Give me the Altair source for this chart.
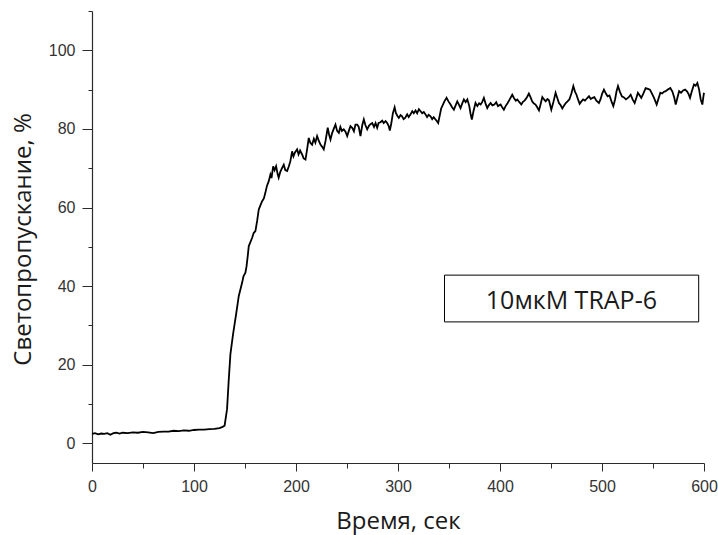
import altair as alt
import pandas as pd

# --- data ---
time_s = [0, 3, 6, 9, 12, 15, 18, 21, 24, 27, 30, 35, 40, 45, 50, 55, 60, 65, 70, 75,
          80, 85, 90, 95, 100, 105, 110, 115, 120, 125, 128, 130,
          132.4, 134, 135.7, 138.3, 141.3, 143.9, 147.2, 148.5, 150.4, 151.5, 152.7, 153.7,
          155, 157, 158.5, 160.2, 161.9, 163.5, 165, 166.8, 168.5, 170, 171.5, 173.3, 174.9,
          176, 177.6, 179, 180.5, 182, 183, 184.5, 186.4, 188, 189.5, 191.3, 193, 194.5,
          196.2, 197.5, 199, 201.1, 202.5, 204, 206, 207.5, 209.3, 211, 212.5, 214, 215.8,
          217.5, 219, 220.7, 222.3, 224, 225.5, 227.2, 229, 231.1, 232.5, 233.8, 235.5, 237,
          238.7, 240.3, 242, 243.5, 245, 246.8, 248.5, 250.2, 251.8, 253.4, 255.1, 256.8,
          258.3, 260, 261.5, 263.2, 265, 266.5, 268, 269.8, 271.5, 273, 274.7, 276.5, 278,
          279.6, 281, 282.8, 284.5, 286, 287.8, 289.4, 290.8, 292, 293.5, 295, 296.7, 298,
          299.5, 300.8, 302.5, 304, 305.5, 307, 309, 310.5, 312.3, 314, 315.5, 317.2, 318.8,
          320.5, 322.1, 323.7, 325.3, 327, 328.5, 330, 331.9, 333.5, 335, 336.8, 338, 339.4,
          341, 342.3, 343.4, 345.5, 347.6, 349.5, 351.5, 353, 354.8, 356.5, 358.1, 359.7,
          361.3, 363, 364.6, 366.3, 368, 369.9, 371, 372.4, 374, 376, 377.8, 379.5, 381,
          382.5, 384.2, 385.8, 387.5, 389, 390.8, 392.5, 394.5, 396.3, 398, 400.6, 402,
          403.8, 405.5, 407.5, 409.5, 412, 413.8, 415.5, 417, 419, 420.9, 422.5, 424, 425,
          426.7, 428.3, 430, 431.5, 433, 434.8, 436.5, 438.2, 439.8, 441.5, 443.2, 444.8,
          446.5, 448, 450.3, 452.5, 454.5, 456, 457.8, 459.5, 461.1, 463, 464.5, 466.2, 468,
          470, 471.9, 473.5, 475, 476.5, 478.1, 479.8, 481.5, 483.3, 485.3, 487.2, 489,
          490.8, 492.5, 494.5, 497, 498.5, 500.2, 501.9, 503.8, 505.5, 507.3, 509.3, 511.1,
          512.8, 514.2, 515.7, 517.5, 519.5, 521.5, 523.5, 526, 528.1, 530, 532, 533.8,
          535.2, 537, 538.5, 540.5, 542.8, 545, 547, 549, 551, 553.6, 555.5, 557.2, 559,
          560.5, 562.4, 564.5, 567, 569, 570.8, 572.3, 574, 575.6, 577.5, 579.5, 581.5,
          583.5, 585, 586.3, 588, 590.2, 591.8, 593.5, 595.2, 596.8, 598.4, 599.3, 600]

transmission = [2.4, 2.6, 2.3, 2.5, 2.4, 2.6, 2.2, 2.6, 2.7, 2.5, 2.7, 2.6, 2.8, 2.7, 2.9, 2.8, 2.6, 2.9, 3.0, 3.0,
                3.2, 3.1, 3.3, 3.2, 3.4, 3.5, 3.5, 3.6, 3.7, 3.9, 4.2, 4.5,
                8.7, 15.9, 22.7, 27.8, 32.9, 37.5, 40.9, 42.5, 43.4, 45, 47.7, 50.2,
                51, 52.3, 53.5, 54, 56.6, 59.5, 60.5, 61.6, 62.3, 63.8, 65.5, 66.7, 68.4,
                67.5, 70.5, 69.5, 70.5, 68.5, 67.6, 69, 70.1, 70.9, 69.5, 69.3, 70.5, 71.8,
                74.3, 73, 74, 74.8, 73.5, 74.5, 73.5, 72.5, 72.2, 75, 77.7, 76.5, 76,
                77.5, 76.5, 78.2, 77, 76.0, 75.5, 74.8, 77, 80.3, 78.5, 77.3, 79, 80,
                81.1, 79.5, 79, 80.5, 79.5, 79.9, 79.3, 78.2, 79.5, 80.7, 80.3, 79.4,
                81.1, 81.1, 80.5, 78.2, 81, 82.4, 81, 79.9, 80.8, 81.2, 81.5, 80.5, 81.5,
                80.3, 81.5, 81.7, 82.1, 81.5, 82, 81.5, 80.8, 79.6, 81.5, 84, 85.5, 84,
                83.3, 82.8, 83.5, 83.2, 82.5, 82.8, 83.7, 83, 83.7, 84.5, 84, 84.7, 84,
                85, 84.5, 84, 84.3, 83.7, 83, 83.6, 83.2, 82.5, 83, 82.4, 82, 81.5,
                83.5, 85.2, 85.8, 87, 87.9, 87, 86.2, 85.5, 84.9, 86, 87.0, 86.2,
                85.3, 86.5, 87.5, 86.8, 87.5, 85.8, 84, 82.4, 84.5, 86.6, 85.8, 86.5, 86.2,
                86.8, 87.9, 86.5, 85.3, 86, 86.6, 86, 86.2, 86.8, 85.8, 86.2, 85.6,
                84.9, 85.8, 86.6, 87.5, 88.7, 87.8, 87.2, 87.5, 86.8, 86.2, 86.9, 87.2, 87.5,
                88.2, 89.0, 88, 87.0, 86.5, 86.2, 85.5, 84.7, 86.3, 88.1, 87.5, 87.0,
                87.6, 87.3, 84.9, 87, 89.2, 88, 86.6, 86, 85.2, 86, 86.6, 87, 87.5,
                89, 90.9, 89.5, 88.7, 87.5, 86.4, 87, 87.5, 87.2, 87.8, 88.3, 87.6,
                87.9, 88.1, 87.2, 86.6, 87.5, 89, 90.0, 89, 88.3, 88.5, 87, 85.8,
                87.5, 89.5, 90.9, 89.5, 88.3, 88, 87.5, 88, 88.7, 87.5, 86.6, 88,
                89.2, 88.5, 87.9, 89, 90.4, 90.2, 90.0, 89, 87.9, 86.2, 87.8, 89.2, 89,
                89.4, 89.6, 90, 90.4, 89.5, 88, 86.2, 88, 89.6, 89.2, 89.8, 90.0,
                89.5, 88.8, 87.9, 89.5, 91.3, 91, 91.7, 90, 87.5, 86.2, 88, 89.2]

x_all_ticks = [0, 50, 100, 150, 200, 250, 300, 350, 400, 450, 500, 550, 600]
y_all_ticks = [0, 10, 20, 30, 40, 50, 60, 70, 80, 90, 100, 110]

label_text = ["10мкМ TRAP-6"]
# annotation box placement in data units (time, %)
box_t1, box_t2 = [345.6], [594.8]
box_v1, box_v2 = [42.8], [30.9]
label_t, label_v = [470.0], [34.1]

df = pd.DataFrame({"t": time_s, "v": transmission})
box_df = pd.DataFrame({"t1": box_t1, "t2": box_t2, "v1": box_v1, "v2": box_v2})
lab_df = pd.DataFrame({"t": label_t, "v": label_v, "txt": label_text})

AX = "#2b2b2b"

x_scale = alt.Scale(domain=[0, 600], nice=False, zero=False)
y_scale = alt.Scale(domain=[-5, 110], nice=False, zero=False)

x_axis = alt.Axis(
    values=x_all_ticks,
    title="Время, сек",
    titleFont="Open Sans", titleFontSize=24, titleFontWeight="normal", titleColor="#1a1a1a",
    titleBaseline="alphabetic", titleY=65,
    labelFont="Liberation Sans", labelFontSize=16, labelColor="#333333",
    labelExpr="datum.value % 100 === 0 ? datum.label : ''",
    labelFlush=False, labelOverlap=False, labelPadding=7,
    tickSize={"condition": {"test": "datum.value % 100 === 0", "value": 8}, "value": 5},
    tickColor=AX, domainColor=AX, tickWidth=1, domainWidth=1.2, grid=False,
)
y_axis = alt.Axis(
    values=y_all_ticks,
    title="Светопропускание, %",
    titleFont="Open Sans", titleFontSize=24, titleFontWeight="normal", titleColor="#1a1a1a",
    titleBaseline="alphabetic", titleX=-62, titleY=228, titleAngle=270,
    labelFont="Liberation Sans", labelFontSize=16, labelColor="#333333",
    labelExpr="datum.value % 20 === 0 ? datum.label : ''",
    labelOverlap=False, labelPadding=7,
    tickSize={"condition": {"test": "datum.value % 20 === 0", "value": 10}, "value": 4},
    tickColor=AX, domainColor=AX, tickWidth=1, domainWidth=1.2, grid=False,
)

line = alt.Chart(df).mark_line(color="black", strokeWidth=1.8, interpolate="linear").encode(
    x=alt.X("t:Q", scale=x_scale, axis=x_axis),
    y=alt.Y("v:Q", scale=y_scale, axis=y_axis),
)

box = alt.Chart(box_df).mark_rect(fill="white", stroke="black", strokeWidth=1).encode(
    x=alt.X("t1:Q", scale=x_scale), x2="t2:Q",
    y=alt.Y("v1:Q", scale=y_scale), y2="v2:Q",
)

label = alt.Chart(lab_df).mark_text(
    font="Open Sans", fontSize=25, color="#1a1a1a", align="center", baseline="alphabetic"
).encode(
    x=alt.X("t:Q", scale=x_scale), y=alt.Y("v:Q", scale=y_scale), text="txt:N"
)

chart = alt.layer(line, box, label).properties(
    width=612, height=452,
    autosize=alt.AutoSizeParams(type="none"),
    padding={"left": 92, "top": 11, "right": 14, "bottom": 72},
    background="white",
).configure_view(stroke=None)

chart.save("out.html", embed_options={"renderer": "svg", "actions": False})
